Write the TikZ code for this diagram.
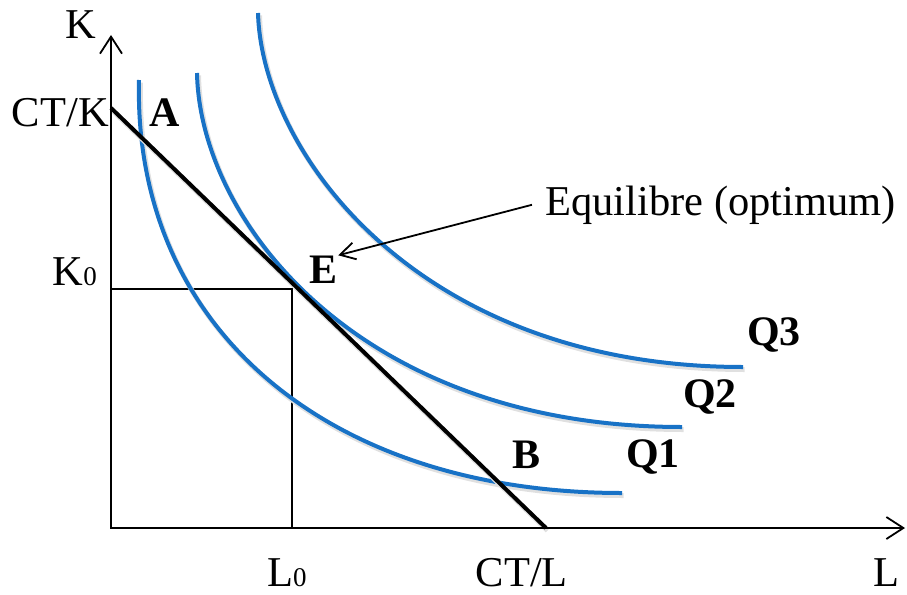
\documentclass[tikz,border=0pt]{standalone}
\usepackage{fontspec}
\setmainfont{Liberation Serif}
\usetikzlibrary{arrows.meta}
\definecolor{isoblue}{RGB}{24,114,198}
\newcommand{\smallidx}[1]{{\fontsize{27}{30}\selectfont #1}}

\begin{document}
\begin{tikzpicture}[
  x=1pt, y=-1pt,
  lbl/.style={inner sep=0pt, font=\fontsize{42.5}{48}\selectfont},
  tag/.style={inner sep=0pt, font=\fontsize{42}{48}\selectfont\bfseries},
  axis/.style={line width=1.8pt, {Straight Barb[length=17pt,width=22pt]}-{Straight Barb[length=17pt,width=22pt]}},
  shade/.style={preaction={draw=black!12, line width=5pt, transform canvas={shift={(1.5pt,-2.5pt)}}}},
  iso/.style={shade, isoblue, line width=4pt},
  budget/.style={shade, line width=4pt},
  pointer/.style={line width=1.8pt, -{Straight Barb[length=15pt,width=17pt]}}
]
\useasboundingbox (0,0) rectangle (907,594);

% axes and budget line
\coordinate (o) at (111,528);
\coordinate (ktop) at (111,35);
\coordinate (lend) at (905,528);
\coordinate (ctk) at (111,108);
\coordinate (ctl) at (546,528);
\coordinate (opt) at (292,289);

\draw[line width=1.2pt] (o) rectangle (opt);

% isoquants
\draw[iso] (139,80) .. controls (133,330) and (330,493) .. (622,493);
\draw[iso] (197,73) .. controls (200,222) and (360,427) .. (682,427);
\draw[iso] (258,13) .. controls (262,154) and (420,367) .. (743,367);

\draw[budget] (ctk) -- (ctl);
\draw[axis] (ktop) -- (o) -- (lend);

% labels
\node[lbl, anchor=base] (k) at (81,38) {K};
\node[lbl, anchor=base east] (ctklbl) at (109,126) {CT/K};
\node[lbl, anchor=base east] (k0) at (97,285) {K\smallidx{0}};
\node[lbl, anchor=base] (l0) at (287,586) {L\smallidx{0}};
\node[lbl, anchor=base east] (ctllbl) at (568,586) {CT/L};
\node[lbl, anchor=base east] (l) at (900,586) {L};
\node[tag, anchor=base] (a) at (165,126) {A};
\node[tag, anchor=base] (e) at (324,283) {E};
\node[tag, anchor=base] (b) at (526,468) {B};
\node[tag, anchor=base] (q1) at (653,467) {Q1};
\node[tag, anchor=base] (q2) at (710,407) {Q2};
\node[tag, anchor=base] (q3) at (774,345) {Q3};
\node[lbl, inner xsep=13pt, anchor=base west] (eq) at (532,215) {Equilibre (optimum)};

\draw[pointer] (eq.west) -- (e.north east);
\end{tikzpicture}
\end{document}
